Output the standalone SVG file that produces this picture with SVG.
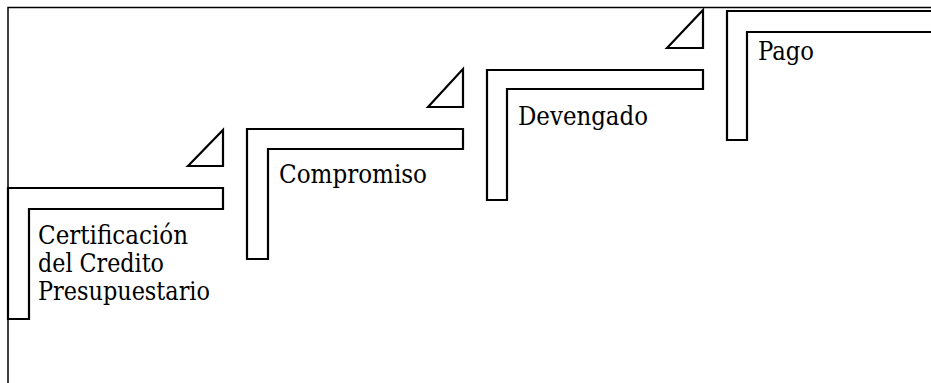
<svg xmlns="http://www.w3.org/2000/svg" width="931" height="383" viewBox="0 0 931 383">
<style>
.frame{fill:none;stroke:#000;stroke-width:1.5}
.step{fill:#fff;stroke:#000;stroke-width:2.2;stroke-linejoin:miter}
.tri{fill:#fff;stroke:#000;stroke-width:2.2;stroke-linejoin:miter}
.lbl{font-family:'DejaVu Serif Condensed','DejaVu Serif','Liberation Serif',serif;font-size:26px;fill:#000}
</style>
<rect width="931" height="383" fill="#fff"/>
<g id="frame">
<polyline class="frame" points="8,383 8,7.5 931,7.5"/>
</g>
<g id="connectors">
<polygon class="tri" points="188,166 223,130 223,166"/>
<polygon class="tri" points="428,107 463,69 463,107"/>
<polygon class="tri" points="667,48 703,10 703,48"/>
</g>
<g id="step1">
<polygon class="step" points="8,188 223,188 223,209 29,209 29,319 8,319"/>
<text class="lbl" x="38" y="244" textLength="150" lengthAdjust="spacingAndGlyphs">Certificación</text>
<text class="lbl" x="38" y="272" textLength="126" lengthAdjust="spacingAndGlyphs">del Credito</text>
<text class="lbl" x="38" y="300" textLength="172" lengthAdjust="spacingAndGlyphs">Presupuestario</text>
</g>
<g id="step2">
<polygon class="step" points="247,129 463,129 463,149 268,149 268,259 247,259"/>
<text class="lbl" x="279" y="183" textLength="148" lengthAdjust="spacingAndGlyphs">Compromiso</text>
</g>
<g id="step3">
<polygon class="step" points="487,70 703,70 703,89 507,89 507,200 487,200"/>
<text class="lbl" x="518" y="125" textLength="130" lengthAdjust="spacingAndGlyphs">Devengado</text>
</g>
<g id="step4">
<polygon class="step" points="727,11 935,11 935,32 747,32 747,140 727,140"/>
<text class="lbl" x="758" y="60" textLength="56" lengthAdjust="spacingAndGlyphs">Pago</text>
</g>
</svg>
